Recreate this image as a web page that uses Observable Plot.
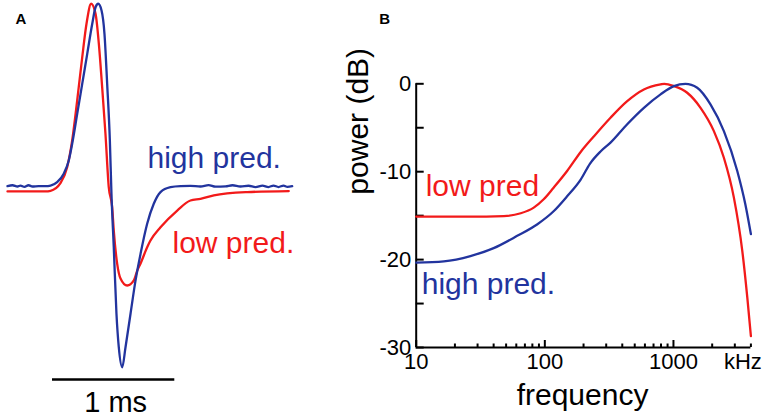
<!DOCTYPE html>
<html>
<head>
<meta charset="utf-8">
<script src="https://cdn.jsdelivr.net/npm/d3@7"></script>
<script src="https://cdn.jsdelivr.net/npm/@observablehq/plot@0.6"></script>
<style>
  html, body { margin: 0; padding: 0; background: #fff; }
  #wrap { display: flex; flex-direction: row; width: 765px; height: 418px; overflow: hidden; }
  #wrap svg { display: block; }
</style>
</head>
<body>
<div id="wrap"></div>
<script>
// ---------- Panel A: spike waveforms (time in ms, amplitude in arbitrary units) ----------
const highTime = [-0.368,-0.327,-0.286,-0.262,-0.229,-0.196,-0.164,-0.114,-0.057,-0.016,0.038,0.092,0.133,0.161,0.202,0.243,0.284,0.325,0.352,0.374,0.401,0.425,0.447,0.469,0.482,0.501,0.523,0.542,0.570,0.597,0.638,0.679,0.720,0.774,0.828,0.883,0.965,1.047,1.128,1.210,1.276,1.333,1.415,1.472,1.537,1.603,1.660,1.717,1.766,1.807,1.848,1.889,1.921,1.960];
const highAmp  = [0.02,0.07,0,0.05,-0.02,0.07,0,0.02,0.02,0.05,0.24,0.70,1.43,2.35,3.99,5.64,7.29,8.94,9.85,10.04,9.67,8.39,5.64,2.53,-0.38,-3.34,-6.99,-8.83,-9.93,-8.83,-6.99,-5.16,-3.70,-2.05,-0.95,-0.31,-0.04,0.02,0.03,0,0.08,-0.01,0.01,0.07,0,0.04,-0.03,0.05,-0.03,0.05,-0.03,0.05,-0.02,0.02];
const lowTime  = [-0.368,-0.057,-0.016,0.065,0.120,0.161,0.202,0.243,0.278,0.316,0.352,0.379,0.406,0.433,0.460,0.488,0.501,0.529,0.556,0.611,0.665,0.693,0.720,0.774,0.801,0.883,1.020,1.128,1.210,1.319,1.592,1.932];
const lowAmp   = [-0.27,-0.27,-0.24,0.18,1.06,2.53,4.73,7.10,8.94,10.04,9.49,7.84,5.46,2.90,-0.04,-1.14,-2.42,-4.25,-5.05,-5.44,-5.16,-4.62,-4.23,-3.34,-2.97,-2.24,-1.32,-0.77,-0.68,-0.49,-0.31,-0.25];
const scaleBarMs = [0, 1];
const scaleBarText = "1 ms";

// ---------- Panel B: power spectra ----------
const lowFreq  = [10,20,35,48,65,82,98,117,149,190,240,324,437,589,794,850,1008,1279,1624,2062,2466,2950,3428,3750,4000];
const lowDb    = [-15.1,-15.1,-15.1,-15.05,-14.73,-14.09,-13.14,-11.82,-9.92,-7.75,-6.0,-3.86,-1.97,-0.64,-0.07,0,-0.26,-1.02,-2.73,-5.38,-8.41,-12.95,-19.0,-24.3,-28.7];
const highFreq = [10,16.4,26.4,40,61,87,117,149,190,224,271,324,437,589,794,1008,1240,1530,1940,2466,3134,3620,4000];
const highDb   = [-20.35,-20.2,-19.6,-18.7,-17.3,-16.0,-14.5,-12.8,-10.9,-9.1,-7.7,-6.7,-4.6,-2.73,-1.2,-0.26,0,-0.45,-2.34,-5.38,-9.92,-13.7,-17.1];

const yMinorTicks = [0,-5,-10,-15,-20,-25,-30];
const yLabelTicks = [0,-10,-20,-30];
const xMajorTicks = [10,100,1000];
const xMinorTicks = [20,30,40,50,60,70,80,90,200,300,400,500,600,700,800,900,2000,3000,4000];
const xUnitText = "kHz";

const RED = "#f21a1a";
const BLUE = "#22349e";
const FONT = "'Liberation Sans', Arial, Helvetica, sans-serif";

const waveHigh = highTime.map((t, i) => ({t, v: highAmp[i]}));
const waveLow  = lowTime.map((t, i) => ({t, v: lowAmp[i]}));
const specLow  = lowFreq.map((f, i) => ({f, db: lowDb[i]}));
const specHigh = highFreq.map((f, i) => ({f, db: highDb[i]}));

// ----- Panel A -----
const pxPerMs = 122.3, zeroPx = 52, widthA = 330;
const pxPerUnit = 18.2, basePx = 186;
const plotA = Plot.plot({
  width: widthA, height: 418,
  margin: 0,
  x: {domain: [-zeroPx / pxPerMs, (widthA - zeroPx) / pxPerMs], axis: null},
  y: {domain: [(basePx - 418) / pxPerUnit, basePx / pxPerUnit], axis: null},
  style: {fontFamily: FONT, background: "white", overflow: "visible"},
  marks: [
    Plot.line(waveLow,  {x: "t", y: "v", stroke: RED,  strokeWidth: 2.3, curve: "monotone-x"}),
    Plot.line(waveHigh, {x: "t", y: "v", stroke: BLUE, strokeWidth: 2.3, curve: "monotone-x"}),
    Plot.ruleY([-10.6], {x1: scaleBarMs[0], x2: scaleBarMs[1], stroke: "black", strokeWidth: 2.5}),
    Plot.text([scaleBarText], {x: (scaleBarMs[0] + scaleBarMs[1]) / 2, y: -10.6, dx: 2, dy: 33, lineAnchor: "bottom", fontSize: 29, fill: "black", text: d => d}),
    Plot.text(["high pred."], {frameAnchor: "top-left", dx: 147, dy: 167, lineAnchor: "bottom", textAnchor: "start", fontSize: 30, fill: BLUE, text: d => d}),
    Plot.text(["low pred."], {frameAnchor: "top-left", dx: 172, dy: 252, lineAnchor: "bottom", textAnchor: "start", fontSize: 30, fill: RED, text: d => d}),
    Plot.text(["A"], {frameAnchor: "top-left", dx: 15, dy: 23, lineAnchor: "bottom", textAnchor: "start", fontSize: 15, fontWeight: "bold", fill: "black", text: d => d})
  ]
});

// ----- Panel B -----
const widthB = 435, heightB = 418;
const mL = 85.7, mR = 14.6, mT = 83.3, mB = 71;
const frameW = widthB - mL - mR, frameH = heightB - mT - mB;
const xMin = 10, xMax = 4000, yMin = -30, yMax = 0;
const pxPerDecade = frameW / Math.log10(xMax / xMin);
const pxPerDb = frameH / (yMax - yMin);
// tick lengths in pixels, converted to the scales' units
const yTickEnd = xMin * 10 ** (8 / pxPerDecade);
const xMajorEnd = yMin + 7 / pxPerDb;
const xMinorEnd = yMin + 3.5 / pxPerDb;

const plotB = Plot.plot({
  width: widthB, height: heightB,
  marginLeft: mL, marginRight: mR, marginTop: mT, marginBottom: mB,
  x: {type: "log", domain: [xMin, xMax]},
  y: {domain: [yMin, yMax]},
  style: {fontFamily: FONT, background: "white", overflow: "visible", color: "black"},
  marks: [
    // inward tick marks
    Plot.ruleY(yMinorTicks, {y: d => d, x1: xMin, x2: yTickEnd, stroke: "black", strokeWidth: 2}),
    Plot.ruleX(xMajorTicks, {x: d => d, y1: yMin, y2: xMajorEnd, stroke: "black", strokeWidth: 2}),
    Plot.ruleX(xMinorTicks, {x: d => d, y1: yMin, y2: xMinorEnd, stroke: "black", strokeWidth: 2}),
    // tick labels
    Plot.axisY(yLabelTicks, {tickSize: 0, tickPadding: 5, fontSize: 22, tickFormat: d => String(d), label: null}),
    Plot.axisX(xMajorTicks, {tickSize: 0, tickPadding: 6, fontSize: 22, tickFormat: d => String(d), label: null}),
    // axis lines
    Plot.ruleX([xMin], {y1: yMin, y2: yMax, stroke: "black", strokeWidth: 2}),
    Plot.ruleY([yMin], {x1: xMin, x2: xMax, stroke: "black", strokeWidth: 2}),
    Plot.line(specLow,  {x: "f", y: "db", stroke: RED,  strokeWidth: 2.3, curve: "monotone-x"}),
    Plot.line(specHigh, {x: "f", y: "db", stroke: BLUE, strokeWidth: 2.3, curve: "monotone-x"}),
    Plot.text([xUnitText], {x: xMax, y: yMin, dx: -8, dy: 6, lineAnchor: "top", fontSize: 22, fill: "black", text: d => d}),
    Plot.text(["frequency"], {frameAnchor: "bottom", dx: -1, dy: 57, lineAnchor: "bottom", fontSize: 30, fill: "black", text: d => d}),
    Plot.text(["power (dB)"], {frameAnchor: "left", dx: -48, dy: -21, rotate: -90, lineAnchor: "bottom", fontSize: 30, fill: "black", text: d => d}),
    Plot.text(["low pred"], {frameAnchor: "top-left", dx: 9.5, dy: 111.7, lineAnchor: "bottom", textAnchor: "start", fontSize: 30, fill: RED, text: d => d}),
    Plot.text(["high pred."], {frameAnchor: "top-left", dx: 5.5, dy: 209.7, lineAnchor: "bottom", textAnchor: "start", fontSize: 30, fill: BLUE, text: d => d}),
    Plot.text(["B"], {frameAnchor: "top-left", dx: -37, dy: -60.3, lineAnchor: "bottom", textAnchor: "start", fontSize: 15, fontWeight: "bold", fill: "black", text: d => d})
  ]
});

const wrap = document.getElementById("wrap");
wrap.appendChild(plotA);
wrap.appendChild(plotB);
</script>
</body>
</html>
